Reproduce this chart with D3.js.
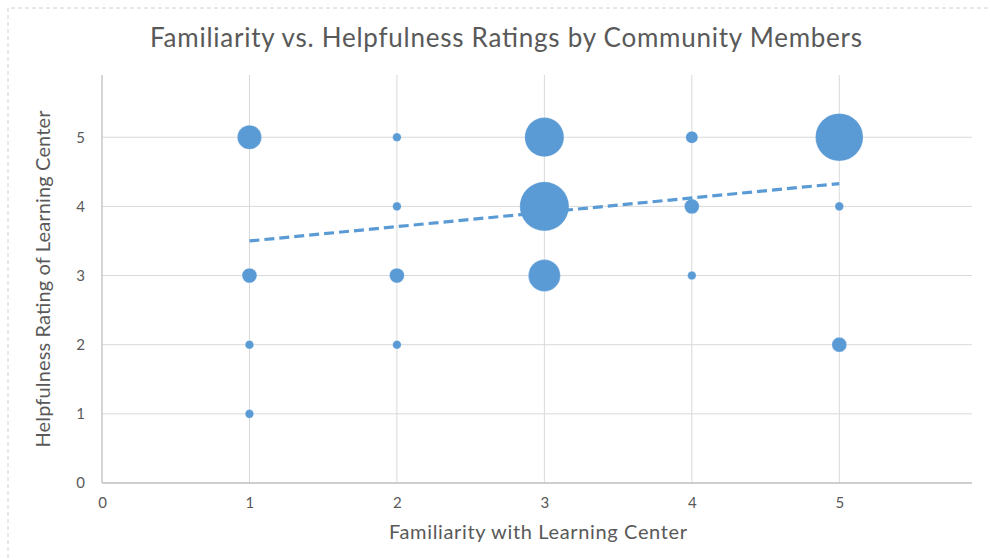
<!DOCTYPE html>
<html>
<head>
<meta charset="utf-8">
<script src="https://cdn.jsdelivr.net/npm/d3@7"></script>
<style>
  body { margin: 0; background: #fff; }
  svg { display: block; font-family: Lato, "Open Sans", sans-serif; }
</style>
</head>
<body>
<div id="chart"></div>
<script>
// Bubble data: familiarity (x), helpfulness (y), number of respondents (size)
var familiarity = [1, 1, 1, 1, 2, 2, 2, 2, 3, 3, 3, 4, 4, 4, 5, 5, 5];
var helpfulness = [1, 2, 3, 5, 2, 3, 4, 5, 3, 4, 5, 3, 4, 5, 2, 4, 5];
var respondents = [1, 1, 3, 8, 1, 3, 1, 1, 14, 33, 21, 1, 3, 2, 3, 1, 31];

// Linear trendline end points as drawn
var trendX = [1, 5];
var trendY = [3.50, 4.33];

var tickValues = [0, 1, 2, 3, 4, 5];
var gridValues = [1, 2, 3, 4, 5];

var width = 990, height = 560;
var plotLeft = 102, plotRight = 972, plotTop = 75, plotBottom = 483;

var svg = d3.select("#chart").append("svg")
    .attr("width", width)
    .attr("height", height);

// chart area border (dashed)
svg.append("path")
    .attr("d", "M8,600 V8 H990")
    .attr("fill", "none")
    .attr("stroke", "#d0d0d0")
    .attr("stroke-dasharray", "4,3");

var x = d3.scaleLinear().domain([0, 5.9]).range([plotLeft, plotRight]);
var y = d3.scaleLinear().domain([0, 5.9]).range([plotBottom, plotTop]);
var r = d3.scaleSqrt().domain([0, 33]).range([0, 24.6]);

// gridlines
svg.append("g")
    .selectAll("line")
    .data(gridValues)
    .enter().append("line")
    .attr("x1", function(d) { return x(d); })
    .attr("x2", function(d) { return x(d); })
    .attr("y1", plotTop)
    .attr("y2", plotBottom)
    .attr("stroke", "#d9d9d9")
    .attr("stroke-width", 1);

svg.append("g")
    .selectAll("line")
    .data(gridValues)
    .enter().append("line")
    .attr("x1", plotLeft)
    .attr("x2", plotRight)
    .attr("y1", function(d) { return y(d); })
    .attr("y2", function(d) { return y(d); })
    .attr("stroke", "#d9d9d9")
    .attr("stroke-width", 1);

// axes
var xAxis = svg.append("g")
    .attr("transform", "translate(0," + plotBottom + ")")
    .call(d3.axisBottom(x).tickValues(tickValues).tickFormat(d3.format("d"))
        .tickSize(0).tickPadding(14));

var yAxis = svg.append("g")
    .attr("transform", "translate(" + plotLeft + ",0)")
    .call(d3.axisLeft(y).tickValues(tickValues).tickFormat(d3.format("d"))
        .tickSize(0).tickPadding(17));

[xAxis, yAxis].forEach(function(a) {
    a.select(".domain").attr("stroke", "#bfbfbf").attr("stroke-width", 1.3);
    a.selectAll("text")
        .attr("fill", "#595959")
        .style("font-size", "15px")
        .style("font-family", "Lato, sans-serif");
});
yAxis.select(".domain").attr("d", "M0," + (plotBottom - plotBottom) + "V0")
    .attr("d", "M0," + plotBottom + "V" + plotTop);
xAxis.select(".domain").attr("d", "M" + plotLeft + ",0H" + plotRight);

// bubbles
var points = familiarity.map(function(f, i) {
    return { x: f, y: helpfulness[i], n: respondents[i] };
});

svg.append("g")
    .selectAll("circle")
    .data(points)
    .enter().append("circle")
    .attr("cx", function(d) { return x(d.x); })
    .attr("cy", function(d) { return y(d.y); })
    .attr("r", function(d) { return r(d.n); })
    .attr("fill", "#5b9bd5")
    .attr("stroke", "#ffffff")
    .attr("stroke-opacity", 0.4)
    .attr("stroke-width", 0.6);

// trendline
var line = d3.line()
    .x(function(d) { return x(d[0]); })
    .y(function(d) { return y(d[1]); });

svg.append("path")
    .datum(trendX.map(function(v, i) { return [v, trendY[i]]; }))
    .attr("d", line)
    .attr("fill", "none")
    .attr("stroke", "#5b9bd5")
    .attr("stroke-width", 3.2)
    .attr("stroke-dasharray", "10,5");

// title
svg.append("text")
    .attr("x", 506)
    .attr("y", 47)
    .attr("text-anchor", "middle")
    .attr("fill", "#595959")
    .attr("textLength", 712)
    .style("font-size", "26px")
    .text("Familiarity vs. Helpfulness Ratings by Community Members");

// axis titles
svg.append("text")
    .attr("x", 538)
    .attr("y", 539)
    .attr("text-anchor", "middle")
    .attr("fill", "#595959")
    .attr("textLength", 298)
    .style("font-size", "20px")
    .text("Familiarity with Learning Center");

svg.append("text")
    .attr("transform", "translate(50,279) rotate(-90)")
    .attr("text-anchor", "middle")
    .attr("fill", "#595959")
    .attr("textLength", 337)
    .style("font-size", "20px")
    .text("Helpfulness Rating of Learning Center");
</script>
</body>
</html>
